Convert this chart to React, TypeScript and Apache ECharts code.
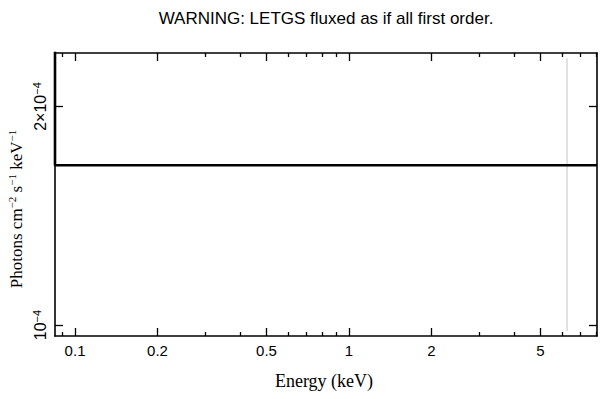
import React, { useEffect, useRef } from "react";
import * as echarts from "echarts";

// Data
const energyKeV = [0.0845, 0.0845, 8.04];
const fluxValues = [3.0e-4, 1.66e-4, 1.66e-4];
const markerEnergy = [6.25, 6.25];
const markerFlux = [2.33e-4, 0.981e-4];

// Axis ranges and ticks
const xRange = [0.0845, 8.04];
const yRange = [0.966e-4, 2.37e-4];
const xMajorTicks = [0.1, 0.2, 0.5, 1, 2, 5];
const xMinorTicks = [0.09, 0.3, 0.4, 0.6, 0.7, 0.8, 0.9, 3, 4, 6, 7, 8];
const yTicks = [1e-4, 2e-4];
const yTickLabels = ["{b|10}{s|−4}", "{b|2×10}{s|−4}"];

const titleText = "WARNING: LETGS fluxed as if all first order.";
const xTitle = "Energy (keV)";
const yTitle = "{b|Photons cm}{s|−2}{b| s}{s|−1}{b| keV}{s|−1}";

const SANS = "'Liberation Sans', Arial, Helvetica, sans-serif";
const SERIF = "'Liberation Serif', 'Times New Roman', serif";

export default function App() {
  const ref = useRef<HTMLDivElement>(null);

  useEffect(() => {
    if (!ref.current) return;
    const chart = echarts.init(ref.current, undefined, { renderer: "svg" });

    const axisLineStyle = { color: "#000", width: 1.6 };
    const mkX = (position: string, ticks: number[], len: number, showLine: boolean, showLabel: boolean) => ({
      type: "log",
      logBase: 10,
      position,
      gridIndex: 0,
      min: xRange[0],
      max: xRange[1],
      axisLine: { show: showLine, onZero: false, lineStyle: axisLineStyle },
      axisTick: {
        show: true,
        inside: true,
        length: len,
        customValues: ticks,
        lineStyle: { color: "#000", width: 1.3 },
      },
      axisLabel: {
        show: showLabel,
        customValues: ticks,
        margin: 7,
        color: "#000",
        fontSize: 15,
        fontFamily: SANS,
        formatter: (v: number) => String(Number(v.toPrecision(3))),
      },
      splitLine: { show: false },
      minorTick: { show: false },
      minorSplitLine: { show: false },
    });

    const mkY = (position: string, showLabel: boolean) => ({
      type: "log",
      logBase: 10,
      position,
      gridIndex: 0,
      min: yRange[0],
      max: yRange[1],
      axisLine: { show: true, onZero: false, lineStyle: axisLineStyle },
      axisTick: {
        show: true,
        inside: true,
        length: 8,
        customValues: yTicks,
        lineStyle: { color: "#000", width: 1.3 },
      },
      axisLabel: {
        show: showLabel,
        customValues: yTicks,
        rotate: 90,
        margin: 6,
        color: "#000",
        fontSize: 16,
        fontFamily: SANS,
        rich: {
          b: { fontSize: 16, fontFamily: SANS, color: "#000", lineHeight: 18 },
          s: { fontSize: 11, fontFamily: SANS, color: "#000", verticalAlign: "top", lineHeight: 18 },
        },
        formatter: (v: number) => {
          let best = 0;
          yTicks.forEach((t, i) => {
            if (Math.abs(Math.log10(v) - Math.log10(t)) < Math.abs(Math.log10(v) - Math.log10(yTicks[best]))) best = i;
          });
          return yTickLabels[best];
        },
      },
      splitLine: { show: false },
      minorTick: { show: false },
      minorSplitLine: { show: false },
    });

    chart.setOption({
      animation: false,
      backgroundColor: "#fff",
      grid: { left: 55, right: 12, top: 53, bottom: 63, containLabel: false },
      xAxis: [
        mkX("bottom", xMajorTicks, 8, true, true),
        mkX("bottom", xMinorTicks, 4, false, false),
        mkX("top", xMajorTicks, 8, true, false),
        mkX("top", xMinorTicks, 4, false, false),
      ],
      yAxis: [mkY("left", true), mkY("right", false)],
      series: [
        {
          type: "line",
          xAxisIndex: 0,
          yAxisIndex: 0,
          data: markerEnergy.map((e, i) => [e, markerFlux[i]]),
          showSymbol: false,
          symbol: "none",
          lineStyle: { color: "#c4c4c4", width: 1 },
          silent: true,
          z: 1,
        },
        {
          type: "line",
          xAxisIndex: 0,
          yAxisIndex: 0,
          data: energyKeV.map((e, i) => [e, fluxValues[i]]),
          showSymbol: false,
          symbol: "none",
          clip: true,
          lineStyle: { color: "#000", width: 2.6 },
          silent: true,
          z: 3,
        },
      ],
      graphic: [
        {
          type: "text",
          x: 326,
          y: 18,
          style: {
            text: titleText,
            fill: "#000",
            font: `17px ${SANS}`,
            textAlign: "center",
            textVerticalAlign: "middle",
          },
        },
        {
          type: "text",
          x: 324,
          y: 381,
          style: {
            text: xTitle,
            fill: "#000",
            font: `18px ${SERIF}`,
            textAlign: "center",
            textVerticalAlign: "middle",
          },
        },
        {
          type: "text",
          x: 16,
          y: 209,
          rotation: Math.PI / 2,
          style: {
            text: yTitle,
            fill: "#000",
            textAlign: "center",
            textVerticalAlign: "middle",
            rich: {
              b: { fontSize: 17, fontFamily: SERIF, fill: "#000", lineHeight: 20 },
              s: { fontSize: 11, fontFamily: SERIF, fill: "#000", verticalAlign: "top", lineHeight: 20 },
            },
          },
        },
      ],
    });

    return () => chart.dispose();
  }, []);

  return (
    <div
      ref={ref}
      style={{ position: "fixed", left: 0, top: 0, width: 609, height: 399, background: "#fff" }}
    />
  );
}
